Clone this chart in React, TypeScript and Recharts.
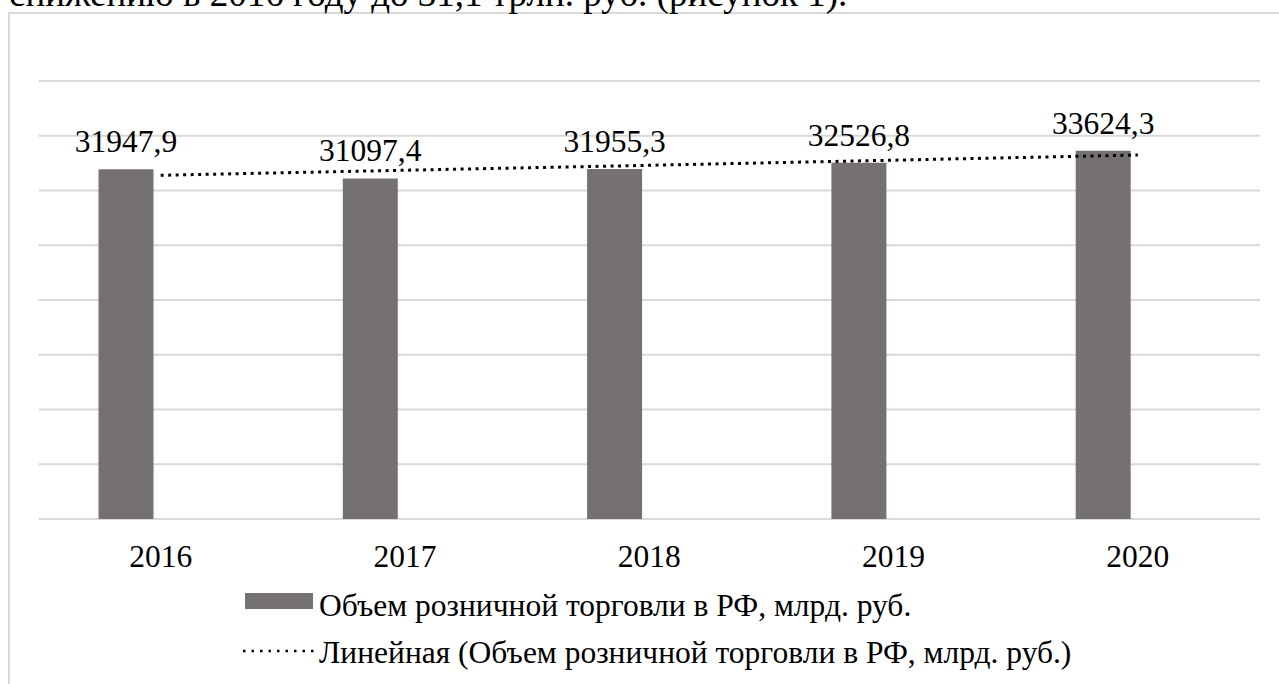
import {
  ComposedChart, Bar, Line, XAxis, YAxis, CartesianGrid, LabelList, Legend
} from 'recharts'

const years = ['2016', '2017', '2018', '2019', '2020']
const retailVolume = [31947.9, 31097.4, 31955.3, 32526.8, 33624.3]
// linear trendline
const trendVolume = [31390, 31850, 32300, 32770, 33240]
const yTicks = [0, 5000, 10000, 15000, 20000, 25000, 30000, 35000, 40000]

const SERIES_NAME = 'Объем розничной торговли в РФ, млрд. руб.'
const TREND_NAME = 'Линейная (Объем розничной торговли в РФ, млрд. руб.)'
const CAPTION = 'снижению в 2016 году до 31,1 трлн. руб. (рисунок 1).'

const FONT = 'Liberation Serif, DejaVu Serif, serif'
const BAR_COLOR = '#767171'
const GRID_COLOR = '#d9d9d9'

const rows = years.map((year, i) => ({
  year,
  volume: retailVolume[i],
  trend: trendVolume[i],
}))

const fmt = (v: any) => Number(v).toFixed(1).replace('.', ',')

const textStyle = { fontFamily: FONT }

const LegendBox = () => (
  <svg width={900} height={95} style={{ display: 'block' }}>
    <rect x={5} y={8} width={68} height={16} fill={BAR_COLOR} />
    <text x={79} y={31} style={textStyle} fontSize={31.5} fill="#000">{SERIES_NAME}</text>
    <line x1={3} y1={66} x2={74} y2={66} stroke="#000" strokeWidth={2.5} strokeDasharray="2.5 6" />
    <text x={79} y={78} style={textStyle} fontSize={31.5} fill="#000">{TREND_NAME}</text>
  </svg>
)

export default function App() {
  return (
    <div style={{ position: 'fixed', left: 0, top: 0, width: 1279, height: 684, overflow: 'hidden', background: '#fff', fontFamily: FONT }}>
      <div style={{
        position: 'absolute', left: 8, top: 12, width: 1400, height: 800,
        borderLeft: `2px solid ${GRID_COLOR}`, borderTop: `2px solid ${GRID_COLOR}`
      }} />
      <svg width={1279} height={20} style={{ position: 'absolute', left: 0, top: 0 }}>
        <text x={9} y={6} style={textStyle} fontSize={37} fill="#000">{CAPTION}</text>
      </svg>
      <div style={{ position: 'absolute', left: 0, top: 0 }}>
        <ComposedChart
          width={1279}
          height={684}
          data={rows}
          barGap={14}
          margin={{ top: 81, right: 19, bottom: 105, left: 38.5 }}
          style={textStyle}
        >
          <CartesianGrid vertical={false} stroke={GRID_COLOR} strokeWidth={2} />
          <XAxis
            dataKey="year"
            axisLine={false}
            tickLine={false}
            tickSize={0}
            tickMargin={26}
            height={60}
            interval={0}
            tick={{ fontSize: 31.5, fontFamily: FONT, fill: '#000' }}
          />
          <YAxis hide domain={[0, 40000]} ticks={yTicks} />
          <Bar dataKey="volume" name={SERIES_NAME} fill={BAR_COLOR} barSize={55} isAnimationActive={false}>
            <LabelList
              dataKey="volume"
              position="top"
              offset={17}
              formatter={fmt}
              fontSize={31.5}
              fontFamily={FONT}
              fill="#000"
            />
          </Bar>
          {/* empty second slot, Excel keeps room for it so the bars sit left of centre */}
          <Bar dataKey="spare" barSize={55} fill="none" legendType="none" isAnimationActive={false} />
          <Line
            dataKey="trend"
            name={TREND_NAME}
            stroke="#000"
            strokeWidth={3}
            strokeDasharray="3 4.5"
            dot={false}
            activeDot={false}
            isAnimationActive={false}
          />
          <Legend
            verticalAlign="middle"
            layout="horizontal"
            content={<LegendBox />}
            wrapperStyle={{ left: 240, top: 585, width: 900, height: 95 }}
          />
        </ComposedChart>
      </div>
    </div>
  )
}
